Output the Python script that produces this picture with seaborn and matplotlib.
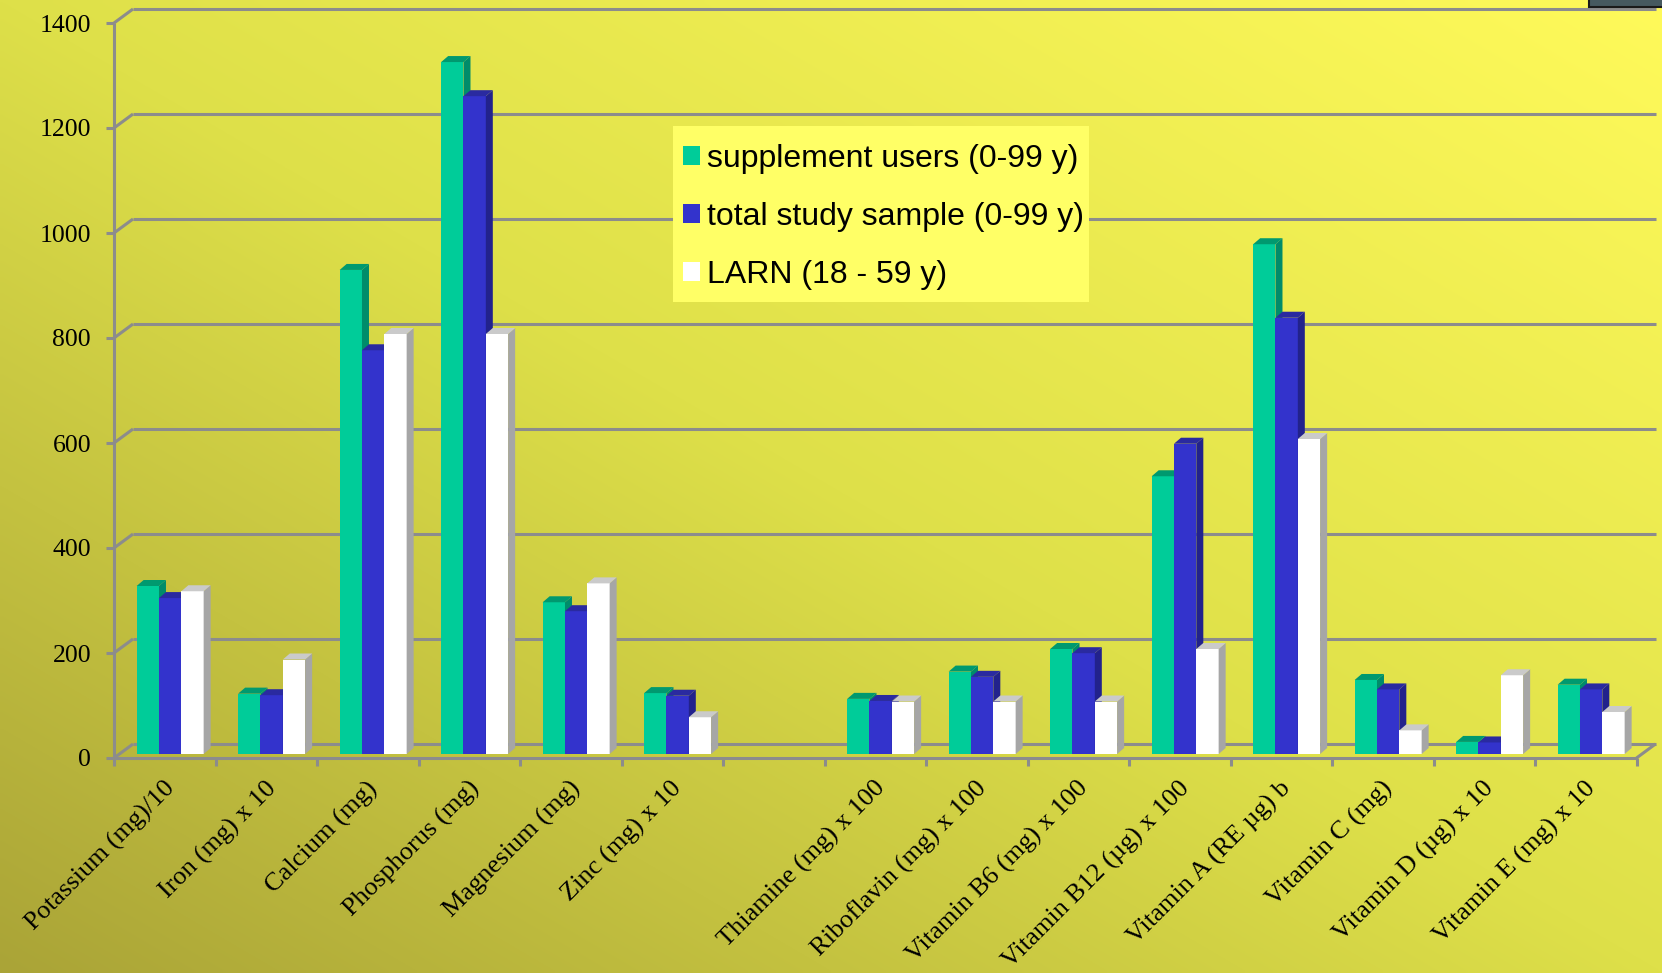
import numpy as np
import pandas as pd
import seaborn as sns
import matplotlib
matplotlib.use("Agg")
import matplotlib.pyplot as plt
from matplotlib.patches import Polygon, Patch, Rectangle
from matplotlib.lines import Line2D
from matplotlib.transforms import Affine2D, IdentityTransform

# ---- data -------------------------------------------------------------
categories = [
    "Potassium (mg)/10", "Iron (mg) x 10", "Calcium (mg)", "Phosphorus (mg)",
    "Magnesium (mg)", "Zinc (mg) x 10", "",
    "Thiamine (mg) x 100", "Riboflavin (mg) x 100", "Vitamin B6 (mg) x 100",
    "Vitamin B12 (\u00b5g) x 100", "Vitamin A (RE \u00b5g) b", "Vitamin C (mg)",
    "Vitamin D (\u00b5g) x 10", "Vitamin E (mg) x 10",
]
groups = ["supplement users (0-99 y)", "total study sample (0-99 y)", "LARN (18 - 59 y)"]
supplement_users = [320, 115, 922, 1318, 289, 116, None, 105, 157, 200, 529, 971, 141, 23, 132]
total_sample = [297, 112, 769, 1253, 272, 111, None, 101, 147, 192, 591, 831, 123, 22, 123]
larn = [310, 180, 800, 800, 325, 70, None, 100, 100, 100, 200, 600, 45, 150, 80]
y_ticks = [0, 200, 400, 600, 800, 1000, 1200, 1400]

front_colors = ["#00CC99", "#3333CC", "#FFFFFF"]
side_colors = ["#008C6A", "#22228C", "#A6A6A6"]
top_colors = ["#00996F", "#2A2AA0", "#CACACA"]
grid_color = "#8C8C8C"

rows = []
for g, vals in zip(groups, [supplement_users, total_sample, larn]):
    for c, v in zip(categories, vals):
        if v is not None:
            rows.append({"nutrient": c, "group": g, "value": v})
df = pd.DataFrame(rows)

# ---- figure -------------------------------------------------------------
W, H = 1662, 973
fig = plt.figure(figsize=(W / 100, H / 100), dpi=100)

# diagonal olive-to-yellow background
bg = fig.add_axes([0, 0, 1, 1], zorder=-10)
gx = np.linspace(0, 1, 340)
gy = np.linspace(1, 0, 200)
X, Y = np.meshgrid(gx, gy)
u = (X + Y) / 2
stops_u = [0.0, 0.5, 1.0]
stops_c = np.array([[170, 164, 55], [222, 224, 73], [255, 250, 90]]) / 255
img = np.stack([np.interp(u, stops_u, stops_c[:, k]) for k in range(3)], axis=-1)
bg.imshow(img, extent=[0, 1, 0, 1], aspect="auto", interpolation="bilinear")
bg.set_axis_off()

# plotting plane of the bars
left_px, right_px, base_px, top_px = 119.4, 1641.9, 754, 19
ax = fig.add_axes([left_px / W, (H - base_px) / H,
                   (right_px - left_px) / W, (base_px - top_px) / H])
ax.patch.set_alpha(0)

sns.barplot(data=df, x="nutrient", y="value", hue="group", order=categories,
            hue_order=groups, palette=front_colors, saturation=1, width=0.66,
            errorbar=None, linewidth=0, legend=False, ax=ax, zorder=3)
ax.set_xlim(-0.5, len(categories) - 0.5)
ax.set_ylim(0, 1400)
ax.set_axis_off()

# depth offsets in pixels
front_off = Affine2D().translate(-5.4, -4)
back_off = Affine2D().translate(13.6, 10)
t_front = ax.transData + front_off
t_back = ax.transData + back_off
ident = IdentityTransform()


def disp(t, x, y):
    return t.transform((x, y))


def seg(p, q, **kw):
    ax.add_line(Line2D([p[0], q[0]], [p[1], q[1]], transform=ident,
                       color=grid_color, lw=2.2, clip_on=False,
                       solid_capstyle="butt", **kw))


x0, x1 = -0.5, len(categories) - 0.5
for v in y_ticks:
    # back wall gridline and its link to the front axis
    seg(disp(t_back, x0, v), disp(t_back, x1, v), zorder=1)
    seg(disp(t_front, x0, v), disp(t_back, x0, v), zorder=1)
    fp = disp(t_front, x0, v)
    seg((fp[0] - 8, fp[1]), fp, zorder=1)
    ax.text(fp[0] - 23, fp[1], f"{v}", transform=ident, ha="right",
            va="center_baseline", fontsize=18.5, family="Liberation Serif",
            color="black")

# front axes lines
seg(disp(t_front, x0, 0), disp(t_front, x0, 1400), zorder=1)
seg(disp(t_front, x0, 0), disp(t_front, x1, 0), zorder=1)
seg(disp(t_front, x1, 0), disp(t_back, x1, 0), zorder=1)
for k in range(len(categories) + 1):
    p = disp(t_front, k - 0.5, 0)
    seg(p, (p[0], p[1] - 8), zorder=1)

# category labels
for i, c in enumerate(categories):
    p = disp(ax.transData, i, 0)
    ax.text(p[0] - 7, p[1] - 23, c, transform=ident, ha="right", va="top",
            rotation=45, rotation_mode="anchor", fontsize=19,
            family="Liberation Serif", color="black")

# extruded sides and tops of each bar
dx, dy = 7, 6
for gi, cont in enumerate(ax.containers):
    for bar in cont:
        h = bar.get_height()
        if not np.isfinite(h):
            continue
        bar.set_zorder(3 + gi * 0.1)
        bx, by = bar.get_x(), bar.get_y()
        bw = bar.get_width()
        (ax0, ay0) = disp(ax.transData, bx, by)
        (ax1, ay1) = disp(ax.transData, bx + bw, by + h)
        side = Polygon([(ax1, ay0), (ax1 + dx, ay0 + dy), (ax1 + dx, ay1 + dy), (ax1, ay1)],
                       closed=True, transform=ident, facecolor=side_colors[gi],
                       edgecolor="none", zorder=3 + gi * 0.1 + 0.05, clip_on=False)
        top = Polygon([(ax0, ay1), (ax0 + dx, ay1 + dy), (ax1 + dx, ay1 + dy), (ax1, ay1)],
                      closed=True, transform=ident, facecolor=top_colors[gi],
                      edgecolor="none", zorder=3 + gi * 0.1 + 0.05, clip_on=False)
        ax.add_patch(side)
        ax.add_patch(top)

# legend panel and entries
fig.patches.append(Rectangle((673 / W, 1 - 302 / H), 416 / W, 176 / H,
                             transform=fig.transFigure, facecolor="#FFFF66",
                             edgecolor="none", zorder=4))
handles = [Patch(facecolor=c, edgecolor="none") for c in front_colors]
fig.legend(handles, groups, loc="upper left",
           bbox_to_anchor=(683 / W, 1 - 144 / H), bbox_transform=fig.transFigure,
           frameon=False, prop={"family": "Liberation Sans", "size": 23},
           handlelength=0.53, handleheight=0.53, handletextpad=0.22,
           labelspacing=0.87, borderpad=0, borderaxespad=0)

# dark tab at the top right corner
fig.patches.append(Rectangle((1589 / W, 1 - 7 / H), 80 / W, 10 / H,
                             transform=fig.transFigure, facecolor="#46595F",
                             edgecolor="#1A1A1A", lw=1.5, zorder=5))

fig.savefig("out.png", dpi=100)
